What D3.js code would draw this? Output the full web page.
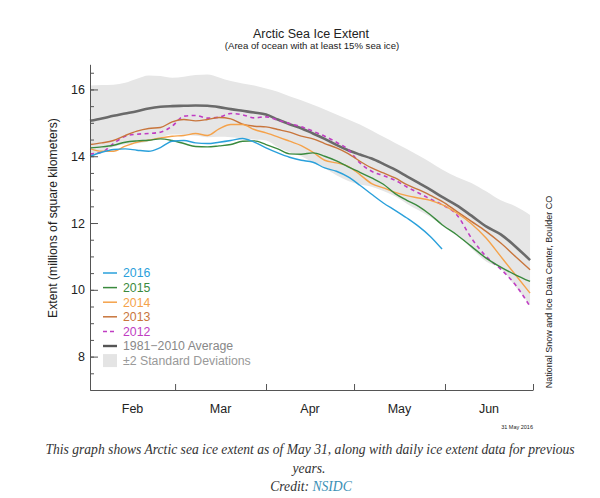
<!DOCTYPE html>
<html><head><meta charset="utf-8">
<script src="https://cdn.jsdelivr.net/npm/d3@7"></script>
<style>body{margin:0;background:#fff}svg{display:block}</style>
</head><body>
<svg id="c" width="600" height="498"></svg>
<script>
// days after Feb 1, 2016
const days = [0,4,8,12,16,20,24,28,32,36,40,44,48,52,56,60,64,68,72,76,80,84,88,92,96,100,104,108,112,116,120,125,130,135,140,145,150];
const avg = [15.06,15.13,15.21,15.28,15.35,15.43,15.48,15.5,15.51,15.52,15.51,15.47,15.41,15.36,15.31,15.25,15.1,14.96,14.84,14.68,14.52,14.34,14.18,14.05,13.93,13.77,13.6,13.4,13.2,13.0,12.78,12.53,12.22,11.9,11.66,11.3,10.89];
const sdUpper = [16.12,16.13,16.14,16.2,16.32,16.42,16.4,16.35,16.38,16.43,16.45,16.36,16.25,16.18,16.12,16.03,15.93,15.8,15.68,15.54,15.4,15.25,15.1,14.95,14.77,14.58,14.4,14.22,14.02,13.82,13.6,13.38,13.2,12.95,12.68,12.5,12.24];
const sdLower = [14.0,14.13,14.28,14.36,14.38,14.44,14.56,14.65,14.64,14.61,14.57,14.58,14.57,14.54,14.5,14.47,14.27,14.12,14.0,13.82,13.64,13.43,13.26,13.15,13.09,12.96,12.8,12.58,12.38,12.18,11.96,11.68,11.24,10.85,10.64,10.1,9.54];
const y2016 = [14.0,14.12,14.2,14.22,14.18,14.15,14.26,14.45,14.47,14.4,14.38,14.42,14.47,14.53,14.42,14.25,14.1,13.97,13.88,13.82,13.65,13.55,13.38,13.13,12.86,12.6,12.38,12.15,11.9,11.6,11.22,null,null,null,null,null,null];
const y2015 = [14.25,14.28,14.33,14.42,14.46,14.48,14.52,14.47,14.38,14.29,14.28,14.31,14.35,14.45,14.46,14.35,14.22,14.07,14.06,14.1,14.0,13.86,13.68,13.52,13.35,13.16,12.88,12.68,12.5,12.25,11.95,11.65,11.3,10.95,10.68,10.45,10.25];
const y2014 = [14.23,14.15,14.15,14.3,14.42,14.48,14.55,14.6,14.62,14.68,14.62,14.82,14.95,14.95,14.8,14.7,14.58,14.45,14.32,14.12,13.88,13.8,13.7,13.45,13.18,13.05,12.92,12.82,12.75,12.68,12.55,12.3,11.98,11.55,11.0,10.45,9.9];
const y2013 = [14.35,14.4,14.47,14.62,14.75,14.83,14.86,15.03,15.1,15.06,15.1,15.16,15.12,14.96,14.9,14.88,14.8,14.72,14.6,14.52,14.38,14.25,14.08,13.85,13.65,13.5,13.35,13.15,13.0,12.83,12.65,12.35,12.05,11.75,11.4,11.0,10.6];
const y2012 = [14.07,14.12,14.38,14.6,14.66,14.68,14.72,14.9,15.2,15.22,15.14,15.17,15.28,15.24,15.15,15.18,15.08,14.98,14.88,14.75,14.6,14.42,14.2,13.8,13.55,13.42,13.28,13.08,12.9,12.72,12.55,12.25,11.55,11.0,10.62,10.15,9.5];

const seriesNames = ["2016","2015","2014","2013","2012"];
const seriesColors = ["#2aa0db","#3a8a3e","#f5a24a","#c8753c","#c03dc3"];
const seriesValues = [y2016,y2015,y2014,y2013,y2012];
const yMajorTicks = [8,10,12,14,16];
const yMinorTicks = [7.5,8,8.5,9,9.5,10,10.5,11,11.5,12,12.5,13,13.5,14,14.5,15,15.5,16,16.5];
const monthStarts = ["2016-02-01","2016-03-01","2016-04-01","2016-05-01","2016-06-01","2016-07-01"];
const monthLabels = ["Feb","Mar","Apr","May","Jun"];

const svg = d3.select("#c");
const start = new Date(2016,1,1);
const dayDate = d => d3.timeDay.offset(start, d);
const x = d3.scaleTime().domain([new Date(2016,1,1), new Date(2016,6,1)]).range([90,533]);
const y = d3.scaleLinear().domain([7,16.75]).range([390,64.4]);
const font = "'Liberation Sans', Arial, Helvetica, sans-serif";

// title
svg.append("text").attr("x",311).attr("y",38).attr("text-anchor","middle")
  .style("font-family",font).style("font-size","12.5px").attr("fill","#222").text("Arctic Sea Ice Extent");
svg.append("text").attr("x",312).attr("y",49).attr("text-anchor","middle")
  .style("font-family",font).style("font-size","9.6px").attr("fill","#222").text("(Area of ocean with at least 15% sea ice)");

// band
const band = days.map((d,i)=>({d, lo:sdLower[i], hi:sdUpper[i]}));
svg.append("path").datum(band).attr("fill","#e6e6e6")
  .attr("d", d3.area().curve(d3.curveMonotoneX).x(p=>x(dayDate(p.d))).y0(p=>y(p.lo)).y1(p=>y(p.hi)));

const line = d3.line().defined(p=>p.v!=null).curve(d3.curveMonotoneX).x(p=>x(dayDate(p.d))).y(p=>y(p.v));
svg.append("path").datum(days.map((d,i)=>({d,v:avg[i]}))).attr("fill","none")
  .attr("stroke","#6a6a6a").attr("stroke-width",2.6).attr("d",line);

for (let k = seriesNames.length-1; k >= 0; k--) {
  const vals = seriesValues[k];
  const p = svg.append("path").datum(days.map((d,i)=>({d,v:vals[i]}))).attr("fill","none")
    .attr("stroke",seriesColors[k]).attr("stroke-width",1.4).attr("d",line);
  if (seriesNames[k]==="2012") p.attr("stroke-dasharray","4,3.5").attr("stroke-width",1.6);
}

// axes
const axCol = "#555";
const gyMinor = svg.append("g").attr("transform","translate(90,0)")
  .call(d3.axisLeft(y).tickValues(yMinorTicks).tickSize(-4).tickSizeOuter(0).tickFormat(""));
const gy = svg.append("g").attr("transform","translate(90,0)")
  .call(d3.axisLeft(y).tickValues(yMajorTicks).tickSize(-8).tickSizeOuter(0).tickPadding(5));
[gyMinor, gy].forEach(g=>{ g.select(".domain").attr("stroke",axCol); g.selectAll(".tick line").attr("stroke",axCol); });
gy.selectAll(".tick text").style("font-family",font).style("font-size","12.5px").attr("fill","#222");

const gx = svg.append("g").attr("transform","translate(0,390)")
  .call(d3.axisBottom(x).tickValues(monthStarts.map(s=>new Date(s+"T00:00:00"))).tickSize(-6).tickSizeOuter(0).tickFormat(""));
gx.select(".domain").attr("stroke",axCol);
gx.selectAll(".tick line").attr("stroke",axCol);
monthLabels.forEach((m,i)=>{
  const a = x(new Date(monthStarts[i]+"T00:00:00")), b = x(new Date(monthStarts[i+1]+"T00:00:00"));
  svg.append("text").attr("x",(a+b)/2).attr("y",413).attr("text-anchor","middle")
    .style("font-family",font).style("font-size","12.5px").attr("fill","#222").text(m);
});

svg.append("text").attr("transform","translate(57,218) rotate(-90)").attr("text-anchor","middle")
  .style("font-family",font).style("font-size","12.2px").attr("fill","#222").text("Extent (millions of square kilometers)");

svg.append("text").attr("transform","translate(552,292) rotate(-90)").attr("text-anchor","middle")
  .style("font-family",font).style("font-size","9px").attr("fill","#222").text("National Snow and Ice Data Center, Boulder CO");
svg.append("text").attr("x",533).attr("y",429).attr("text-anchor","end")
  .style("font-family",font).style("font-size","5.5px").attr("fill","#222").text("31 May 2016");

// legend
const lg = svg.append("g");
const rowY = i => 273 + i*14.6;
seriesNames.forEach((n,i)=>{
  const l = lg.append("line").attr("x1",103).attr("x2",117).attr("y1",rowY(i)).attr("y2",rowY(i))
    .attr("stroke",seriesColors[i]).attr("stroke-width",1.5);
  if (n==="2012") l.attr("stroke-dasharray","4,3");
  lg.append("text").attr("x",123).attr("y",rowY(i)+4.4).style("font-family",font).style("font-size","12.3px")
    .attr("fill",seriesColors[i]).text(n);
});
lg.append("line").attr("x1",103).attr("x2",117).attr("y1",rowY(5)).attr("y2",rowY(5)).attr("stroke","#555").attr("stroke-width",2.4);
lg.append("text").attr("x",123).attr("y",rowY(5)+4.4).style("font-family",font).style("font-size","12.3px").attr("fill","#888").text("1981\u22122010 Average");
lg.append("rect").attr("x",103).attr("y",rowY(6)-6.5).attr("width",14).attr("height",13).attr("fill","#e4e4e4");
lg.append("text").attr("x",123).attr("y",rowY(6)+4.4).style("font-family",font).style("font-size","12.3px").attr("fill","#999").text("\u00b12 Standard Deviations");

// caption
const cf = "'Liberation Serif', 'DejaVu Serif', serif";
svg.append("text").attr("x",310).attr("y",454).attr("text-anchor","middle").style("font-family",cf).style("font-style","italic")
  .style("font-size","13.6px").attr("fill","#333").text("This graph shows Arctic sea ice extent as of May 31, along with daily ice extent data for previous");
svg.append("text").attr("x",309).attr("y",473).attr("text-anchor","middle").style("font-family",cf).style("font-style","italic")
  .style("font-size","13.6px").attr("fill","#333").text("years.");
const cr = svg.append("text").attr("x",311).attr("y",491).attr("text-anchor","middle").style("font-family",cf).style("font-style","italic")
  .style("font-size","13.6px").attr("fill","#333");
cr.append("tspan").text("Credit: ");
cr.append("tspan").attr("fill","#3b8fb5").text("NSIDC");
</script>
</body></html>
